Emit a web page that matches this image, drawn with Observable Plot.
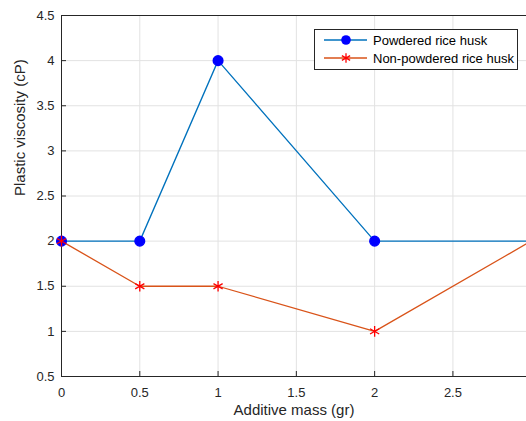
<!DOCTYPE html>
<html><head><meta charset="utf-8">
<script src="https://cdn.jsdelivr.net/npm/d3@7"></script>
<script src="https://cdn.jsdelivr.net/npm/@observablehq/plot@0.6"></script>
<style>
html,body{margin:0;padding:0;background:#fff;overflow:hidden;}
#wrap{position:relative;width:526px;height:421px;font-family:"Liberation Sans",Arial,sans-serif;}
#legend{position:absolute;left:314px;top:29px;width:202px;height:39px;border:1px solid #262626;background:#fff;font-size:13px;color:#000;}
#legend .row{position:absolute;left:0;height:18px;display:flex;align-items:center;}
#legend svg{display:block}
</style>
</head><body>
<div id="wrap"><div id="chart"></div><div id="legend"></div></div>
<script>
const mass = [0, 0.5, 1, 2, 3];
const powdered = [2, 2, 4, 2, 2];
const nonPowdered = [2, 1.5, 1.5, 1, 2];
const seriesNames = ["Powdered rice husk", "Non-powdered rice husk"];
const xTicks = [0, 0.5, 1, 1.5, 2, 2.5];
const yTicks = [0.5, 1, 1.5, 2, 2.5, 3, 3.5, 4, 4.5];

const blueLine = "#0072BD", blueMark = "#0000FF";
const redLine = "#D95319", redMark = "#FF0000";

const xMax = 2.97;
const pData = mass.map((m, i) => ({x: m, y: powdered[i]}));
const nData = mass.map((m, i) => ({x: m, y: nonPowdered[i]}));
const inView = d => d.x <= xMax;

const axisColor = "#262626";
const chart = Plot.plot({
  width: 526, height: 421,
  marginLeft: 61, marginTop: 15, marginBottom: 45, marginRight: 0,
  style: {fontFamily: '"Liberation Sans", Arial, sans-serif', fontSize: "13px", color: axisColor, background: "#fff"},
  x: {domain: [0, xMax], ticks: xTicks, tickFormat: d => String(d), label: null},
  y: {domain: [0.5, 4.5], ticks: yTicks, tickFormat: d => String(d), label: null},
  marks: [
    Plot.gridX(xTicks, {stroke: "#e2e2e2", strokeOpacity: 1, strokeWidth: 1}),
    Plot.gridY(yTicks, {stroke: "#e2e2e2", strokeOpacity: 1, strokeWidth: 1}),
    Plot.ruleY([4.5], {stroke: axisColor, strokeWidth: 1}),
    Plot.ruleY([0.5], {stroke: axisColor, strokeWidth: 1}),
    Plot.ruleX([0], {stroke: axisColor, strokeWidth: 1}),
    Plot.axisX({ticks: xTicks, tickSize: -5, tickPadding: 16, stroke: axisColor, fill: axisColor, label: null, tickFormat: d => String(d), fontSize: 13}),
    Plot.axisY({ticks: yTicks, tickSize: -5, tickPadding: 12, stroke: axisColor, fill: axisColor, label: null, tickFormat: d => String(d), fontSize: 13}),
    Plot.line(pData, {x: "x", y: "y", stroke: blueLine, strokeWidth: 1.3, clip: true}),
    Plot.line(nData, {x: "x", y: "y", stroke: redLine, strokeWidth: 1.3, clip: true}),
    Plot.dot(pData, {filter: inView, x: "x", y: "y", r: 4.8, fill: blueMark, stroke: blueMark}),
    Plot.dot(nData, {filter: inView, x: "x", y: "y", r: 5, symbol: "asterisk", stroke: redMark, strokeWidth: 1.3}),
    Plot.text(["Additive mass (gr)"], {frameAnchor: "bottom", dy: 38, fontSize: 15, fill: "#262626"}),
    Plot.text(["Plastic viscosity (cP)"], {frameAnchor: "left", dx: -41, rotate: -90, fontSize: 15, fill: "#262626"})
  ]
});
document.getElementById("chart").appendChild(chart);

// legend
const legend = d3.select("#legend");
const items = [
  {name: seriesNames[0], line: blueLine, mark: blueMark, sym: "circle"},
  {name: seriesNames[1], line: redLine, mark: redMark, sym: "asterisk"}
];
items.forEach((it, i) => {
  const row = legend.append("div").attr("class", "row").style("top", (i === 0 ? 1 : 19) + "px");
  const s = row.append("svg").attr("width", 54).attr("height", 18);
  s.append("line").attr("x1", 9).attr("x2", 52).attr("y1", 9).attr("y2", 9).attr("stroke", it.line).attr("stroke-width", 1.3);
  if (it.sym === "circle") {
    s.append("circle").attr("cx", 31).attr("cy", 9).attr("r", 4.8).attr("fill", it.mark);
  } else {
    s.append("path").attr("d", d3.symbol(d3.symbolAsterisk, 64)()).attr("transform", "translate(31,9)").attr("stroke", it.mark).attr("stroke-width", 1.3).attr("fill", "none");
  }
  row.append("span").text(it.name).style("margin-left", "4px").style("white-space", "nowrap");
});
</script>
</body></html>
